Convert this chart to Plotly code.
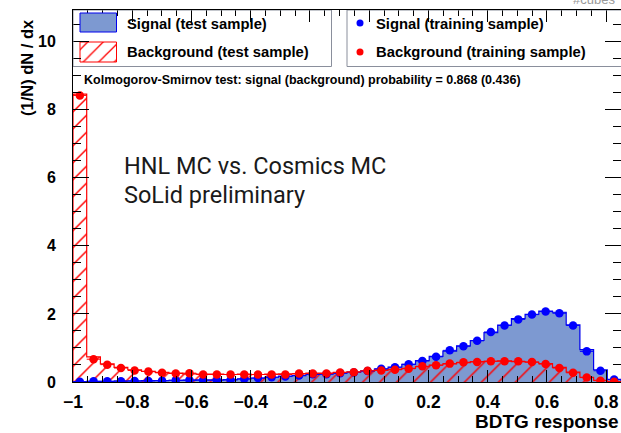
import numpy as np
import plotly.graph_objects as go

# ---------------- data ----------------
XMIN, XMAX, NBINS = -1.0, 0.85, 40

sig_test = [0.01, 0.02, 0.02, 0.03, 0.03, 0.04, 0.04, 0.05, 0.05, 0.06,
            0.06, 0.07, 0.09, 0.11, 0.14, 0.17, 0.19, 0.22, 0.24, 0.26,
            0.29, 0.33, 0.38, 0.44, 0.52, 0.63, 0.75, 0.91, 1.06, 1.22,
            1.45, 1.67, 1.86, 1.99, 2.08, 2.05, 1.68, 0.95, 0.36, 0.08]
sig_train = [0.01, 0.02, 0.02, 0.02, 0.03, 0.03, 0.04, 0.05, 0.06, 0.05,
             0.05, 0.06, 0.09, 0.12, 0.14, 0.16, 0.19, 0.23, 0.23, 0.26,
             0.28, 0.32, 0.39, 0.43, 0.52, 0.62, 0.74, 0.93, 1.05, 1.21,
             1.47, 1.66, 1.84, 1.98, 2.07, 2.02, 1.66, 0.90, 0.33, 0.07]
bkg_test = [8.46, 0.74, 0.53, 0.43, 0.36, 0.31, 0.28, 0.26, 0.24, 0.23,
            0.23, 0.22, 0.23, 0.22, 0.23, 0.24, 0.24, 0.26, 0.26, 0.28,
            0.30, 0.32, 0.35, 0.37, 0.40, 0.45, 0.50, 0.53, 0.57, 0.60,
            0.61, 0.62, 0.60, 0.58, 0.54, 0.43, 0.29, 0.14, 0.05, 0.01]
bkg_train = [8.42, 0.67, 0.51, 0.41, 0.34, 0.31, 0.27, 0.25, 0.26, 0.22,
             0.22, 0.22, 0.22, 0.22, 0.22, 0.22, 0.25, 0.25, 0.25, 0.28,
             0.29, 0.33, 0.34, 0.36, 0.39, 0.46, 0.49, 0.54, 0.58, 0.59,
             0.61, 0.61, 0.61, 0.59, 0.53, 0.41, 0.27, 0.13, 0.04, 0.01]

ks_text = "Kolmogorov-Smirnov test: signal (background) probability = 0.868 (0.436)"
legend_labels = ["Signal (test sample)", "Background (test sample)",
                 "Signal (training sample)", "Background (training sample)"]
notes = ["HNL MC vs. Cosmics MC", "SoLid preliminary"]

# ---------------- styling ----------------
W, H = 621, 433
L, R, T, B = 73, 0, 10, 51
YMAX = 10.93
SIG_FILL = "#7d99d1"
SIG_LINE = "#0000ee"
BKG = "#ff0000"
FONT = "Liberation Sans, Arial, Helvetica, sans-serif"

edges = np.linspace(XMIN, XMAX, NBINS + 1)
centers = 0.5 * (edges[:-1] + edges[1:])
bw = edges[1] - edges[0]


def step_xy(vals):
    xs = [edges[0]] + list(edges) + [edges[-1]]
    ys = [0] + list(vals) + [vals[-1], 0]
    return xs, ys


fig = go.Figure()

# signal test (filled)
fig.add_trace(go.Bar(x=centers, y=sig_test, width=bw, marker=dict(color=SIG_FILL, line=dict(width=0)),
                     showlegend=False, hoverinfo="skip"))
xs, ys = step_xy(sig_test)
fig.add_trace(go.Scatter(x=xs, y=ys, mode="lines", line=dict(color=SIG_LINE, width=1.2, shape="hv"),
                         showlegend=False, hoverinfo="skip"))
# background test (hatched)
fig.add_trace(go.Bar(x=centers, y=bkg_test, width=bw,
                     marker=dict(color="rgba(0,0,0,0)", line=dict(width=0),
                                 pattern=dict(shape="/", fgcolor=BKG, bgcolor="rgba(0,0,0,0)",
                                              size=12, solidity=0.12, fillmode="replace")),
                     showlegend=False, hoverinfo="skip"))
xs, ys = step_xy(bkg_test)
fig.add_trace(go.Scatter(x=xs, y=ys, mode="lines", line=dict(color=BKG, width=1.2, shape="hv"),
                         showlegend=False, hoverinfo="skip"))
# training points
fig.add_trace(go.Scatter(x=centers, y=sig_train, mode="markers",
                         marker=dict(color="#0000ff", size=8.5),
                         error_x=dict(type="constant", value=bw / 2, color="#0000ff", thickness=1, width=0),
                         showlegend=False, hoverinfo="skip", cliponaxis=True))
fig.add_trace(go.Scatter(x=centers, y=bkg_train, mode="markers",
                         marker=dict(color=BKG, size=8.5),
                         error_x=dict(type="constant", value=bw / 2, color=BKG, thickness=1, width=0),
                         showlegend=False, hoverinfo="skip", cliponaxis=True))

# ---------------- legend in pixel overlay ----------------
PX = [L, W - R]
PY = [H - B, T]
box_line = dict(color="#8a8f9c", width=1)
fig.add_shape(type="rect", xref="x2", yref="y2", x0=73, x1=331.5, y0=10, y1=66.5, line=box_line)
fig.add_shape(type="rect", xref="x2", yref="y2", x0=347, x1=640, y0=10, y1=66.5, line=box_line)
fig.add_shape(type="rect", xref="x2", yref="y2", x0=80, x1=116.5, y0=13, y1=32,
              fillcolor=SIG_FILL, line=dict(color=SIG_LINE, width=1))
fig.add_trace(go.Scatter(x=[80, 116.5, 116.5, 80, 80], y=[42, 42, 62, 62, 42], xaxis="x2", yaxis="y2",
                         mode="lines", line=dict(color=BKG, width=1), fill="toself",
                         fillcolor="rgba(0,0,0,0)",
                         fillpattern=dict(shape="/", fgcolor=BKG, bgcolor="rgba(0,0,0,0)",
                                          size=11, solidity=0.12, fillmode="replace"),
                         showlegend=False, hoverinfo="skip"))
fig.add_trace(go.Scatter(x=[360, 360], y=[23, 52], xaxis="x2", yaxis="y2", mode="markers",
                         marker=dict(color=["#0000ff", BKG], size=7),
                         showlegend=False, hoverinfo="skip"))

leg_pos = [(125, 24), (125, 52), (374, 24), (374, 52)]
for (lx, ly), lab in zip(leg_pos, legend_labels):
    fig.add_annotation(x=lx, y=ly, xref="x2", yref="y2", text=lab, showarrow=False,
                       xanchor="left", yanchor="middle",
                       font=dict(family=FONT, size=14.8, color="black", weight="bold"))

fig.add_annotation(x=82, y=80, xref="x2", yref="y2", text=ks_text, showarrow=False,
                   xanchor="left", yanchor="middle",
                   font=dict(family=FONT, size=12.5, color="black", weight="bold"))

for txt, ty in zip(notes, [166, 195]):
    fig.add_annotation(x=122, y=ty, xref="x2", yref="y2", text=txt, showarrow=False,
                       xanchor="left", yanchor="middle",
                       font=dict(family="Roboto, sans-serif", size=23.5, color="#1a1a1a"))


def pxx(p):
    return (p - L) / (W - L - R)


def pxy(p):
    return (H - B - p) / (H - B - T)


fig.add_annotation(x=pxx(27), y=pxy(68), xref="paper", yref="paper", text="(1/N) dN / dx",
                   textangle=-90, showarrow=False, xanchor="center", yanchor="middle",
                   font=dict(family=FONT, size=16.5, color="black", weight="bold"))
fig.add_annotation(x=pxx(621), y=pxy(422), xref="paper", yref="paper", text="BDTG response",
                   showarrow=False, xanchor="right", yanchor="middle",
                   font=dict(family=FONT, size=19, color="black", weight="bold"))
fig.add_annotation(x=pxx(594), y=pxy(-1), xref="paper", yref="paper", text="#cubes",
                   showarrow=False, xanchor="center", yanchor="middle",
                   font=dict(family=FONT, size=13, color="#999999"))

axis_common = dict(showgrid=False, zeroline=False, showline=True, linecolor="black", linewidth=1,
                   mirror="allticks", ticks="inside", tickcolor="black", tickwidth=1)

fig.update_layout(
    width=W, height=H, margin=dict(l=L, r=R, t=T, b=B),
    paper_bgcolor="white", plot_bgcolor="white",
    barmode="overlay", bargap=0, showlegend=False,
    xaxis=dict(range=[XMIN, XMAX], dtick=0.2, tick0=0, ticklen=12,
               minor=dict(dtick=0.05, ticklen=6, ticks="inside", tickcolor="black", showgrid=False),
               ticklabelstandoff=4,
               tickfont=dict(family=FONT, size=17.5, color="black", weight="bold"),
               **axis_common),
    yaxis=dict(range=[0, YMAX], dtick=2, tick0=0, ticklen=16,
               minor=dict(dtick=0.5, ticklen=8, ticks="inside", tickcolor="black", showgrid=False),
               ticklabelstandoff=13,
               tickfont=dict(family=FONT, size=16, color="black", weight="bold"),
               **axis_common),
    xaxis2=dict(range=PX, overlaying="x", anchor="y2", visible=False, domain=[0, 1]),
    yaxis2=dict(range=PY, overlaying="y", anchor="x2", visible=False, domain=[0, 1]),
)

fig.write_html("out.html")
